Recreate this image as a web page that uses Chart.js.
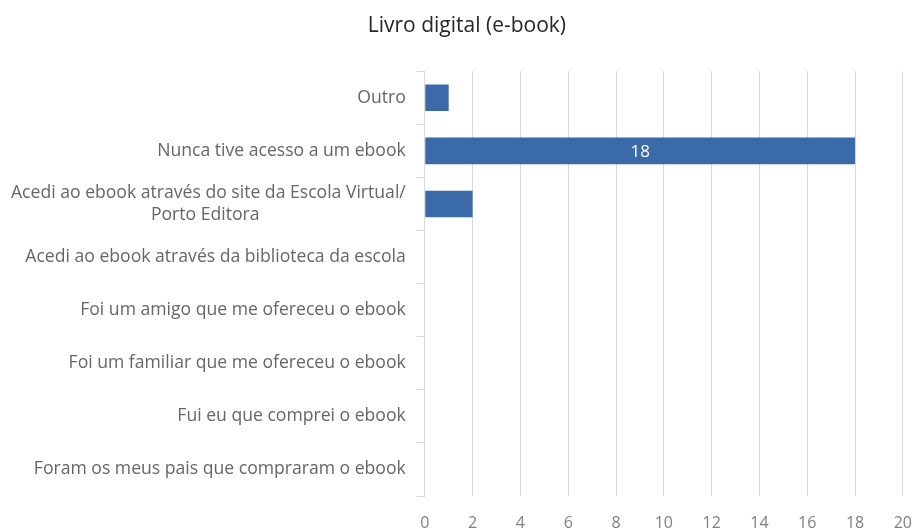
<!DOCTYPE html>
<html>
<head>
<meta charset="utf-8">
<script src="https://cdn.jsdelivr.net/npm/chart.js@4"></script>
<style>
  html, body { margin: 0; padding: 0; background: #fff; }
  #wrap { width: 912px; height: 528px; }
</style>
</head>
<body>
<div id="wrap"><canvas id="grafica"></canvas></div>
<script>
// categorias de cima para baixo
// (a segunda linha da 3ª categoria leva espaços para ficar centrada como no original)
const categorias = [
  'Outro',
  'Nunca tive acesso a um ebook',
  ['Acedi ao ebook através do site da Escola Virtual/', 'Porto Editora' + '\u00a0'.repeat(32)],
  'Acedi ao ebook através da biblioteca da escola',
  'Foi um amigo que me ofereceu o ebook',
  'Foi um familiar que me ofereceu o ebook',
  'Fui eu que comprei o ebook',
  'Foram os meus pais que compraram o ebook'
];
const valores = [1, 18, 2, 0, 0, 0, 0, 0];
// só a barra maior tem o rótulo visível
const rotulos = [null, '18', null, null, null, null, null, null];
const ticksX = [0, 2, 4, 6, 8, 10, 12, 14, 16, 18, 20];

const fonte = '"Open Sans", Lato, sans-serif';

// desenha o valor no centro da barra
const rotulosPlugin = {
  id: 'rotulos',
  afterDatasetsDraw(chart) {
    const ctx = chart.ctx;
    const meta = chart.getDatasetMeta(0);
    ctx.save();
    ctx.fillStyle = '#ffffff';
    ctx.font = '17px ' + fonte;
    ctx.textAlign = 'center';
    ctx.textBaseline = 'middle';
    meta.data.forEach((barra, i) => {
      if (rotulos[i]) {
        ctx.fillText(rotulos[i], (barra.x + barra.base) / 2, barra.y + 1);
      }
    });
    ctx.restore();
  }
};

new Chart(document.getElementById('grafica'), {
  type: 'bar',
  data: {
    labels: categorias,
    datasets: [{
      data: valores,
      backgroundColor: '#3A6AA8',
      borderWidth: 0,
      barPercentage: 0.5,
      categoryPercentage: 1
    }]
  },
  options: {
    indexAxis: 'y',
    responsive: true,
    maintainAspectRatio: false,
    animation: false,
    layout: { padding: { left: 0, right: 0, top: 0, bottom: -3 } },
    plugins: {
      legend: { display: false },
      tooltip: { enabled: false },
      title: {
        display: true,
        // espaços à esquerda para deslocar o título como no original
        text: '\u00a0\u00a0\u00a0\u00a0Livro digital (e-book)',
        color: '#262626',
        font: { family: fonte, size: 21, weight: 'normal' },
        padding: { top: 13, bottom: 33 }
      }
    },
    scales: {
      x: {
        min: 0,
        max: 20,
        afterBuildTicks(axis) {
          axis.ticks = ticksX.map(v => ({ value: v }));
        },
        grid: { color: '#d9d9d9', drawTicks: true, tickLength: 19, tickColor: 'rgba(0,0,0,0)' },
        border: { display: false },
        ticks: {
          color: '#808080',
          padding: 0,
          font: { family: fonte, size: 16, lineHeight: 1 }
        }
      },
      y: {
        grid: {
          drawOnChartArea: false,
          drawTicks: true,
          tickLength: 8,
          color: '#d9d9d9'
        },
        border: { display: true, color: '#d9d9d9' },
        ticks: {
          color: '#666666',
          padding: 11,
          font: { family: fonte, size: 17.6, lineHeight: 1.3 }
        }
      }
    }
  },
  plugins: [rotulosPlugin]
});
</script>
</body>
</html>
